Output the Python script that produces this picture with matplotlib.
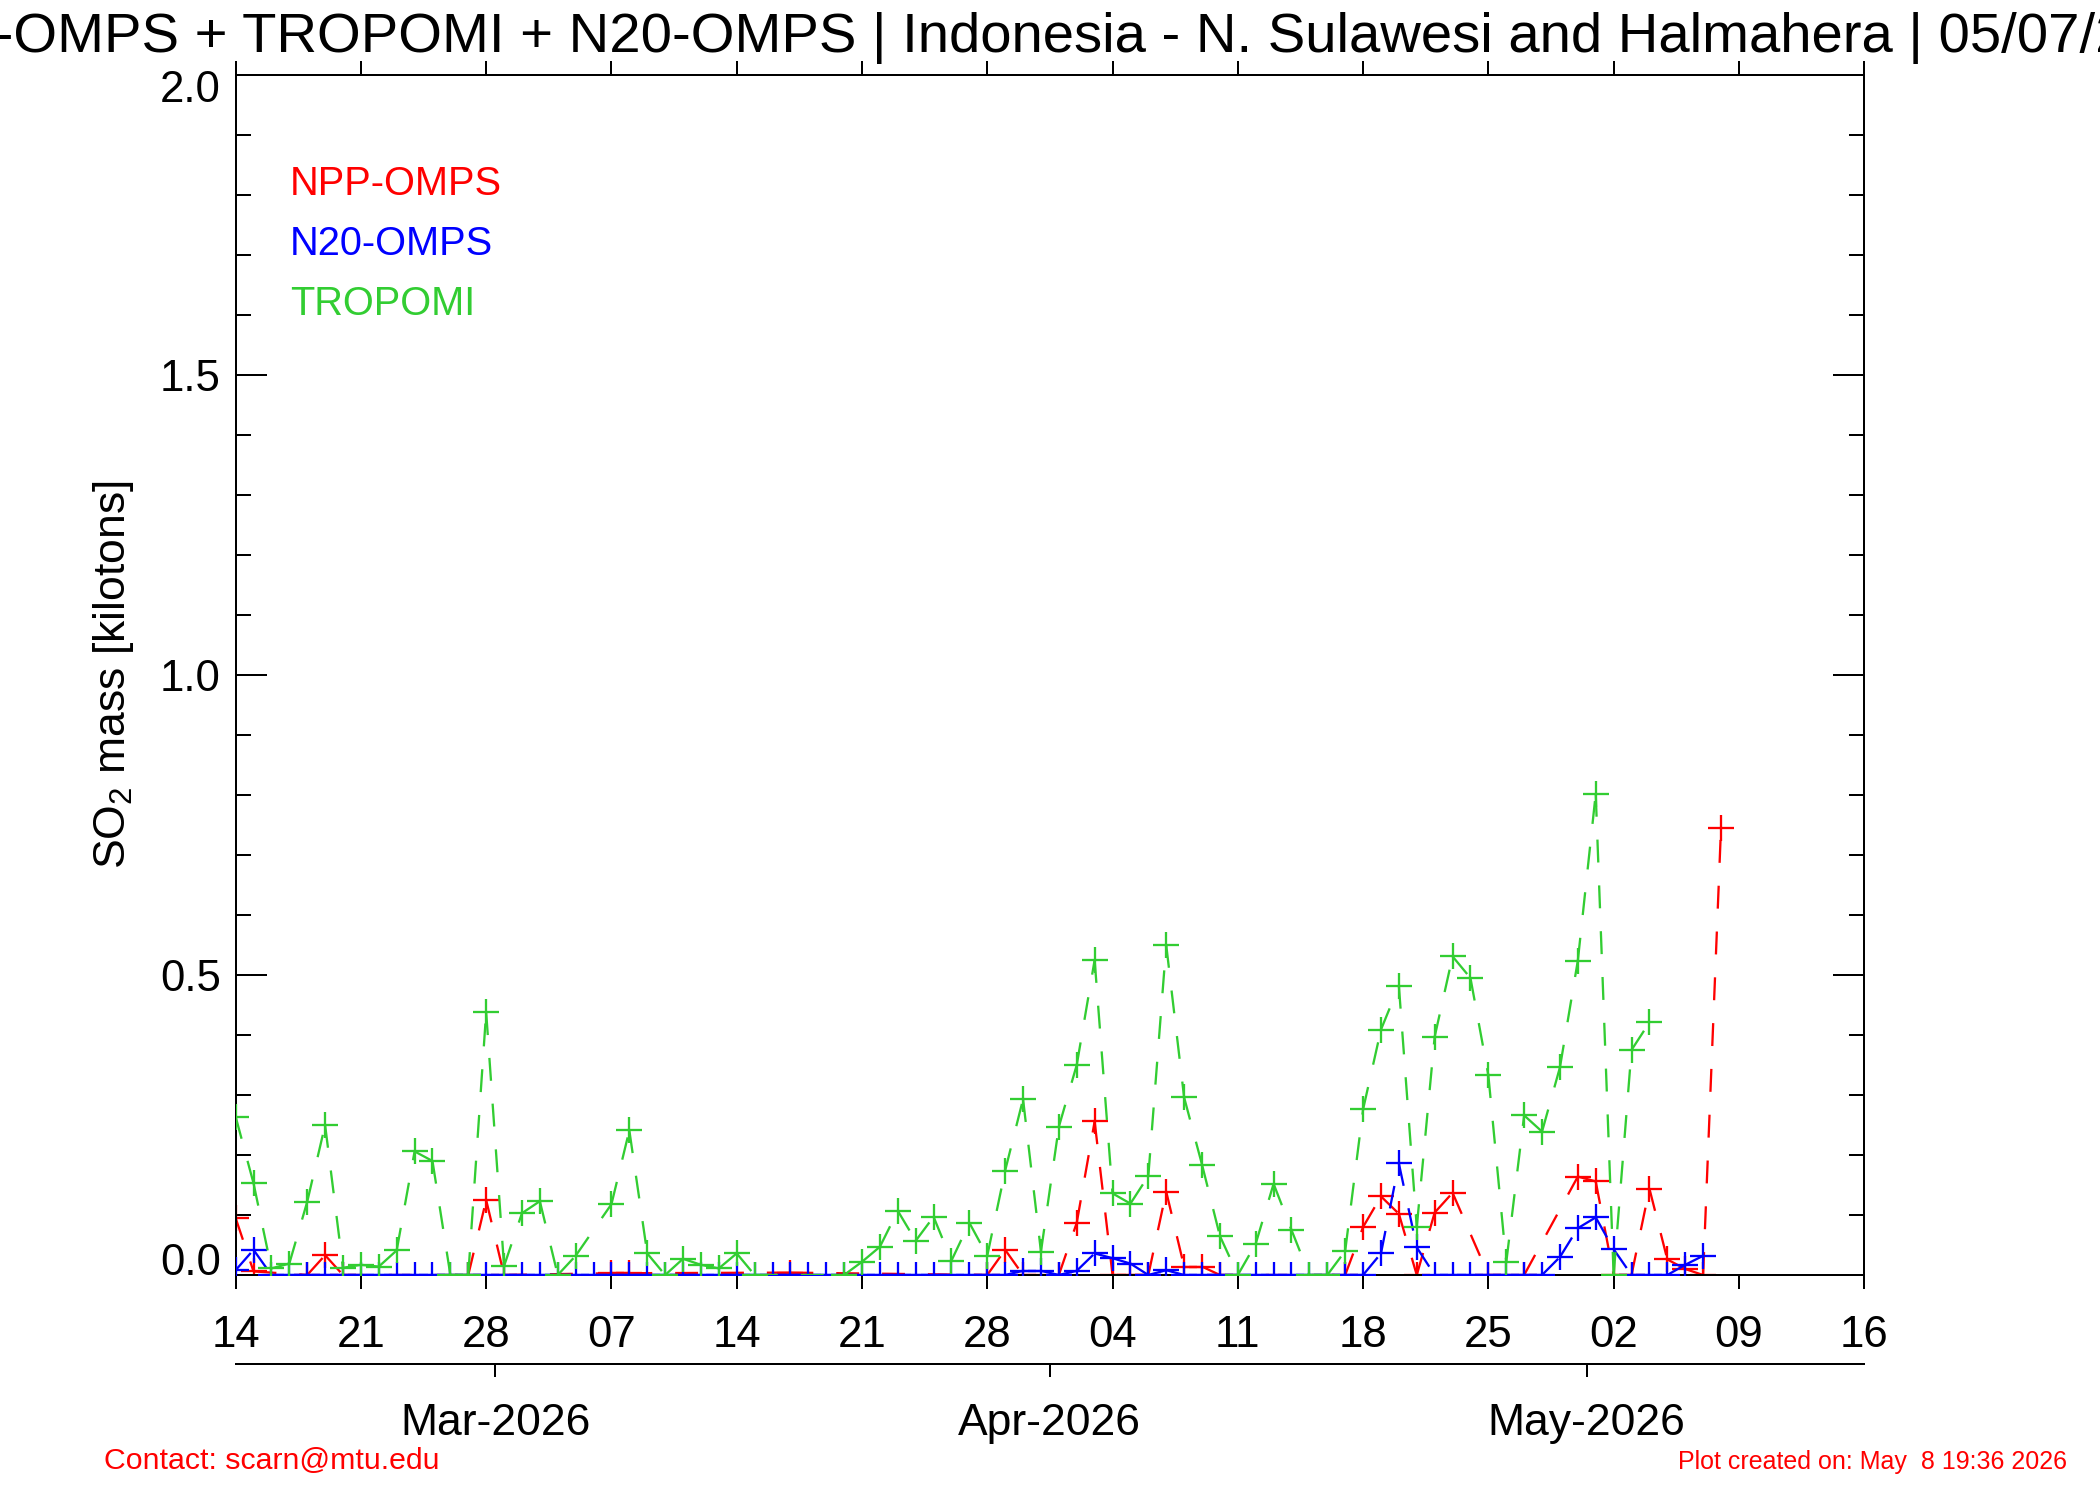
"""Daily SO2 mass over N. Sulawesi and Halmahera from three satellite sensors.

Recreates the MTU volcanic SO2 time series plot: NPP-OMPS, N20-OMPS and
TROPOMI daily SO2 mass (kilotons), dashed lines with '+' markers, a day
axis every 7 days and a month axis underneath.
"""

import matplotlib.pyplot as plt
import numpy as np
import pandas as pd
from matplotlib.collections import LineCollection
from matplotlib.dates import DateFormatter, date2num
from matplotlib.ticker import MultipleLocator
from matplotlib.transforms import offset_copy

plt.rcParams["font.family"] = ["Liberation Sans", "DejaVu Sans"]
plt.rcParams["mathtext.fontset"] = "custom"
plt.rcParams["mathtext.rm"] = "Liberation Sans"

nan = np.nan

# Daily values, one per day starting 14 Feb 2026 (nan = no retrieval that day)
FIRST_DAY = "2026-02-14"
AXIS_START = "2026-02-14"
AXIS_END = "2026-05-16"

npp_omps = [
    0.095, 0.006, nan, nan, 0.0, 0.033, 0.0, nan, nan, nan,
    nan, nan, nan, 0.0, 0.125, 0.0, nan, nan, nan, nan,
    nan, 0.003, 0.003, nan, nan, nan, nan, nan, nan, nan,
    nan, 0.004, nan, nan, nan, nan, nan, nan, nan, nan,
    nan, nan, 0.0, 0.042, 0.0, nan, 0.0, 0.087, 0.256, 0.0,
    0.0, 0.0, 0.139, 0.014, 0.014, 0.0, nan, nan, nan, nan,
    nan, nan, 0.0, 0.080, 0.131, 0.102, 0.0, 0.104, 0.137, nan,
    0.0, nan, 0.0, nan, nan, 0.164, 0.156, 0.0, 0.0, 0.144,
    0.026, 0.010, 0.0, 0.745,
]

n20_omps = [
    0.008, 0.042, 0.0, 0.0, 0.0, 0.0, 0.0, 0.0, 0.0, 0.0,
    0.0, 0.0, 0.0, 0.0, 0.0, 0.0, 0.0, 0.0, 0.0, 0.0,
    0.0, 0.0, 0.0, 0.0, 0.0, 0.0, 0.0, 0.0, 0.0, 0.0,
    0.0, 0.0, 0.0, 0.0, 0.0, 0.0, 0.0, 0.0, 0.0, 0.0,
    0.0, 0.0, 0.0, 0.0, 0.007, 0.007, 0.0, 0.007, 0.036, 0.028,
    0.019, 0.0, 0.008, 0.0, 0.0, 0.0, 0.0, 0.0, 0.0, 0.0,
    0.0, 0.0, 0.0, 0.0, 0.036, 0.186, 0.046, 0.0, 0.0, 0.0,
    0.0, 0.0, 0.0, 0.0, 0.030, 0.078, 0.096, 0.043, 0.0, 0.0,
    0.0, 0.017, 0.032, nan,
]

tropomi = [
    0.264, 0.153, 0.011, 0.019, 0.122, 0.250, 0.012, 0.017, 0.014, 0.041,
    0.206, 0.190, 0.0, 0.0, 0.438, 0.015, 0.103, 0.123, 0.0, 0.032,
    nan, 0.118, 0.241, 0.036, 0.0, 0.027, 0.017, 0.011, 0.036, 0.0,
    nan, nan, nan, nan, 0.0, 0.022, 0.047, 0.107, 0.057, 0.097,
    0.024, 0.087, 0.032, 0.174, 0.293, 0.039, 0.247, 0.350, 0.525, 0.136,
    0.119, 0.165, 0.550, 0.296, 0.184, 0.065, 0.0, 0.052, 0.152, 0.075,
    0.0, 0.0, 0.040, 0.276, 0.409, 0.482, 0.080, 0.397, 0.531, 0.495,
    0.333, 0.021, 0.266, 0.239, 0.346, 0.524, 0.802, 0.0, 0.375, 0.421,
    nan, nan, nan, nan,
]

MONTH_STARTS = ["2026-03-01", "2026-04-01", "2026-05-01"]
MONTH_LABELS = ["Mar-2026", "Apr-2026", "May-2026"]

TITLE = ("NPP-OMPS + TROPOMI + N20-OMPS | Indonesia - N. Sulawesi and "
         "Halmahera | 05/07/2026")

RED = "#ff0000"
BLUE = "#0000ff"
GREEN = "#32cd32"
LW = 1.44       # axes, about 2 px at 100 dpi
DATA_LW = 1.65  # data lines and markers, a touch heavier (IDL draws them aliased)


def dashed_segments(ax, x, y, color, zorder):
    """IDL restarts the dash pattern on every segment, so draw them one by one."""
    x = np.asarray(x, dtype=float)
    y = np.asarray(y, dtype=float)
    ok = ~np.isnan(y)
    pts = np.column_stack([x[ok], y[ok]])
    segs = np.stack([pts[:-1], pts[1:]], axis=1)
    lc = LineCollection(segs, colors=color, linewidths=DATA_LW,
                        linestyles=[(0, (10, 10))], zorder=zorder)
    ax.add_collection(lc)
    ax.plot(x, y, linestyle="none", marker="+", ms=18.7, mew=DATA_LW,
            color=color, zorder=zorder)


fig = plt.figure(figsize=(21, 15), dpi=100)
L, B, W, H = 0.1122, 0.15, 0.7755, 0.80
ax = fig.add_axes([L, B, W, H])

days = pd.date_range(FIRST_DAY, periods=len(tropomi), freq="D")
xnum = date2num(days)

# drawing order as in the original: red under blue, green on top
dashed_segments(ax, xnum, npp_omps, RED, 2)
dashed_segments(ax, xnum, n20_omps, BLUE, 3)
dashed_segments(ax, xnum, tropomi, GREEN, 4)

x0, x1 = pd.Timestamp(AXIS_START), pd.Timestamp(AXIS_END)
ax.set_xlim(x0, x1)
ax.set_ylim(0, 2.0)

ax.set_xticks(pd.date_range(AXIS_START, AXIS_END, freq="7D"))
ax.xaxis.set_major_formatter(DateFormatter("%d"))
ax.set_yticks([0.0, 0.5, 1.0, 1.5, 2.0])
ax.set_yticklabels(["0.0", "0.5", "1.0", "1.5", "2.0"])
ax.yaxis.set_minor_locator(MultipleLocator(0.1))

ax.tick_params(axis="x", which="major", direction="out", length=10, width=LW,
               pad=18.5, labelsize=31.5, top=True, bottom=True)
ax.tick_params(axis="y", which="both", direction="in", left=True, right=True,
               width=LW)
ax.tick_params(axis="y", which="major", length=22, pad=10.6, labelsize=31.5)
ax.tick_params(axis="y", which="minor", length=11)
for s in ax.spines.values():
    s.set_linewidth(LW)

# end labels sit inside the axis range, like IDL does
yt = ax.yaxis.get_major_ticks()
yt[0].label1.set_verticalalignment("baseline")
top_lab = yt[-1].label1
top_lab.set_verticalalignment("top")
top_lab.set_transform(offset_copy(top_lab.get_transform(), fig=fig, y=5,
                                  units="dots"))

ax.set_ylabel("SO$_\\mathrm{2}$ mass [kilotons]", fontsize=32)
ax.yaxis.set_label_coords(-0.061, 0.5)

# in-plot legend text
for i, (name, col) in enumerate([("NPP-OMPS", RED), ("N20-OMPS", BLUE),
                                 ("TROPOMI", GREEN)]):
    ax.text(0.0333, 0.9 - 0.05 * i, name, color=col, fontsize=28.6,
            transform=ax.transAxes, va="baseline", ha="left")

# month axis below the day axis
ax2 = fig.add_axes([L, 0.0905, W, 1e-4])
ax2.patch.set_visible(False)
for side in ["top", "left", "right"]:
    ax2.spines[side].set_visible(False)
ax2.spines["bottom"].set_linewidth(LW)
ax2.set_xlim(x0, x1)
ax2.set_yticks([])
ax2.set_xticks([pd.Timestamp(m) - pd.Timedelta(hours=12) for m in MONTH_STARTS])
ax2.set_xticklabels(MONTH_LABELS)
ax2.tick_params(axis="x", direction="out", length=9.6, width=LW, pad=18,
                labelsize=32)

fig.text(0.5, 1 - 52 / 1500, TITLE, ha="center", va="baseline", fontsize=40.5)
fig.text(104.5 / 2100, 1 - 1469 / 1500, "Contact: scarn@mtu.edu", color=RED,
         fontsize=21.8, va="baseline", ha="left")
fig.text(2067 / 2100, 1 - 1469 / 1500, "Plot created on: May  8 19:36 2026",
         color=RED, fontsize=18, va="baseline", ha="right")

fig.savefig("out.png", dpi=100)
